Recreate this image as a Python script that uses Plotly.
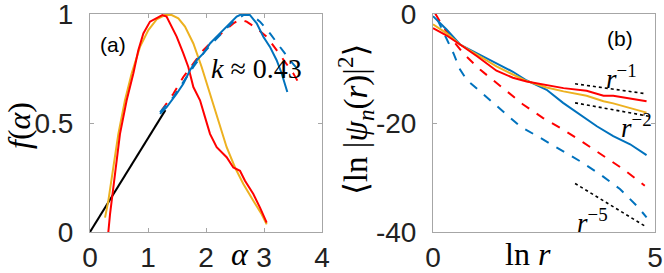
import plotly.graph_objects as go

W, H = 664, 273

# ---------------- Panel (a) data ----------------
a_red_x = [0.316, 0.345, 0.431, 0.517, 0.632, 0.747, 0.833, 0.92, 1.034, 1.149, 1.247, 1.32, 1.379, 1.494,
           1.609, 1.695, 1.782, 1.897, 1.983, 2.069, 2.184, 2.356, 2.471, 2.586, 2.672, 2.816, 2.931, 3.046]
a_red_y = [0.0, 0.081, 0.266, 0.45, 0.604, 0.727, 0.834, 0.911, 0.965, 0.98, 0.995, 0.988, 0.957, 0.896,
           0.819, 0.757, 0.665, 0.604, 0.527, 0.45, 0.389, 0.343, 0.296, 0.281, 0.235, 0.174, 0.112, 0.043]

a_orange_x = [0.259, 0.316, 0.402, 0.489, 0.603, 0.718, 0.862, 1.006, 1.149, 1.293, 1.408, 1.523, 1.638,
              1.782, 1.925, 2.069, 2.213, 2.356, 2.5, 2.644, 2.816, 2.96, 3.046]
a_orange_y = [0.066, 0.143, 0.296, 0.45, 0.604, 0.727, 0.849, 0.926, 0.975, 0.995, 0.995, 0.98, 0.942,
              0.865, 0.757, 0.634, 0.511, 0.389, 0.296, 0.22, 0.143, 0.081, 0.035]

a_blue_x = [1.207, 1.322, 1.494, 1.609, 1.724, 1.839, 1.954, 2.069, 2.184, 2.299, 2.414, 2.529, 2.644,
            2.759, 2.874, 2.989, 3.103, 3.218, 3.305, 3.362, 3.402]
a_blue_y = [0.542, 0.573, 0.634, 0.68, 0.742, 0.788, 0.819, 0.865, 0.896, 0.926, 0.957, 0.988, 1.003,
            0.995, 0.957, 0.896, 0.849, 0.788, 0.727, 0.68, 0.642]

a_red_dash_x = [1.236, 1.437, 1.609, 1.782, 1.954, 2.126, 2.299, 2.471, 2.586, 2.701, 2.874, 3.046,
                3.218, 3.391, 3.506, 3.621]
a_red_dash_y = [0.558, 0.634, 0.711, 0.773, 0.834, 0.88, 0.919, 0.957, 0.975, 0.965, 0.934, 0.896,
                0.834, 0.773, 0.727, 0.673]

a_blue_dash_x = [1.207, 1.437, 1.609, 1.782, 1.954, 2.126, 2.299, 2.471, 2.644, 2.787, 2.931, 3.103,
                 3.276, 3.448, 3.621]
a_blue_dash_y = [0.55, 0.619, 0.688, 0.757, 0.819, 0.872, 0.919, 0.965, 0.995, 0.995, 0.965, 0.911,
                 0.849, 0.788, 0.734]

a_line_x = [0.0, 1.3]
a_line_y = [0.0, 0.559]

a_xticks = [0, 1, 2, 3, 4]
a_yticks = [0, 0.5, 1]
a_yticklabels = ["0", "0.5", "1"]

# ---------------- Panel (b) data ----------------
b_red_x = [0.0, 0.3, 0.61, 1.0, 1.43, 1.8, 2.11, 2.56, 2.94, 3.46, 3.84, 4.06, 4.81]
b_red_y = [-2.6, -3.9, -5.6, -7.8, -10.4, -11.7, -12.4, -13.0, -13.6, -14.1, -15.0, -15.0, -16.0]

b_orange_x = [0.0, 0.3, 0.61, 1.0, 1.43, 1.8, 2.11, 2.56, 2.94, 3.46, 3.84, 4.06, 4.81]
b_orange_y = [-1.9, -3.5, -5.6, -7.5, -9.6, -11.1, -12.3, -13.5, -14.2, -15.0, -16.0, -16.4, -18.1]

b_blue_x = [0.0, 0.3, 0.61, 1.0, 1.43, 1.8, 2.11, 2.56, 2.93, 3.31, 3.69, 4.06, 4.44, 4.81]
b_blue_y = [-0.4, -2.8, -5.6, -7.2, -9.0, -10.6, -12.2, -13.9, -16.3, -18.4, -20.6, -22.4, -23.9, -25.9]

b_red_dash_x = [0.05, 0.2, 0.38, 0.68, 1.06, 1.43, 1.89, 2.03, 2.48, 2.93, 3.39, 3.84, 4.29, 4.77]
b_red_dash_y = [0.1, -2.0, -4.1, -7.2, -10.2, -12.7, -15.7, -16.6, -19.1, -21.2, -23.6, -26.1, -28.5, -31.5]

b_blue_dash_x = [0.1, 0.27, 0.46, 0.61, 0.76, 1.06, 1.43, 1.73, 1.96, 2.41, 2.86, 3.31, 3.76, 4.21, 4.59, 4.81]
b_blue_dash_y = [-1.0, -3.8, -7.2, -10.2, -12.1, -14.2, -16.9, -19.0, -20.6, -22.7, -24.8, -27.0, -29.4,
                 -32.1, -35.2, -37.3]

b_p1_x = [3.2, 4.77]
b_p1_y = [-12.8, -14.6]
b_p2_x = [3.2, 4.89]
b_p2_y = [-16.3, -18.8]
b_p5_x = [3.2, 4.77]
b_p5_y = [-31.1, -38.9]

b_xticks = [0, 5]
b_yticks = [0, -20, -40]
b_yticklabels = ["0", "-20", "-40"]

RED = "#FF0000"
ORANGE = "#EDB120"
BLUE = "#0072BD"
FRAME = "#A6A6A6"
SANS = "Liberation Sans, Arial, sans-serif"
SERIF = "Liberation Serif, DejaVu Serif, serif"
TICKSIZE = 28


def px(x):
    return x / W


def py(y):
    return 1 - y / H


fig = go.Figure()


def add(x, y, color, dash="solid", width=2.0, xa="x", ya="y"):
    fig.add_trace(go.Scatter(x=x, y=y, mode="lines", line=dict(color=color, width=width, dash=dash),
                             xaxis=xa, yaxis=ya, showlegend=False, hoverinfo="skip"))


# panel a
add(a_line_x, a_line_y, "black", width=2)
add(a_orange_x, a_orange_y, ORANGE)
add(a_red_x, a_red_y, RED)
add(a_red_dash_x, a_red_dash_y, RED, dash="dash")
add(a_blue_dash_x, a_blue_dash_y, BLUE, dash="dash")
add(a_blue_x, a_blue_y, BLUE)

# panel b
add(b_blue_dash_x, b_blue_dash_y, BLUE, dash="dash", xa="x2", ya="y2")
add(b_red_dash_x, b_red_dash_y, RED, dash="dash", xa="x2", ya="y2")
add(b_blue_x, b_blue_y, BLUE, xa="x2", ya="y2")
add(b_orange_x, b_orange_y, ORANGE, xa="x2", ya="y2")
add(b_red_x, b_red_y, RED, xa="x2", ya="y2")
for xs, ys in [(b_p1_x, b_p1_y), (b_p2_x, b_p2_y), (b_p5_x, b_p5_y)]:
    add(xs, ys, "black", dash="dot", width=1.6, xa="x2", ya="y2")

axis_common = dict(showline=True, linecolor=FRAME, linewidth=1, mirror="ticks", ticks="inside",
                   ticklen=4, tickcolor=FRAME, showgrid=False, zeroline=False,
                   ticklabeloverflow="allow", automargin=False,
                   tickfont=dict(family=SANS, size=TICKSIZE, color="#222"))

y0, y1 = py(232), py(14)
fig.update_layout(
    width=W, height=H, margin=dict(l=0, r=0, t=0, b=0, pad=0, autoexpand=False),
    paper_bgcolor="white", plot_bgcolor="white",
    xaxis=dict(domain=[px(90), px(322)], range=[0, 4], tickvals=a_xticks, anchor="y",
               ticklabelstandoff=0, **axis_common),
    yaxis=dict(domain=[y0, y1], range=[0, 1], tickvals=a_yticks, ticktext=a_yticklabels, anchor="x",
               ticklabelstandoff=10, **axis_common),
    xaxis2=dict(domain=[px(433), px(655)], range=[0, 5], tickvals=b_xticks, anchor="y2",
                ticklabelstandoff=0, **axis_common),
    yaxis2=dict(domain=[y0, y1], range=[-40, 0], tickvals=b_yticks, ticktext=b_yticklabels, anchor="x2",
                ticklabelstandoff=10, **axis_common),
)

ann = []


def text(x, y, s, size, family, angle=0, color="black"):
    ann.append(dict(x=px(x), y=py(y), xref="paper", yref="paper", text=s, showarrow=False,
                    xanchor="center", yanchor="middle", textangle=angle, borderpad=0,
                    font=dict(family=family, size=size, color=color)))


text(113, 45, "(a)", 21, SANS)
text(620, 39, "(b)", 21, SANS)
text(256, 68, "<i>k</i> ≈ 0.43", 28, SERIF)
text(240, 254, "<i>α</i>", 32, SERIF)
text(528, 254, "ln <i>r</i>", 32, SERIF)
text(19, 126, "<i>f</i>(<i>α</i>)", 32, SERIF, angle=-90)
text(355, 120, "⟨ln |<i>ψ</i><sub><i>n</i></sub>(<i>r</i>)|<sup>2</sup>⟩", 33, SERIF, angle=-90)
text(621, 77, "<i>r</i><sup>−1</sup>", 27, SERIF)
text(636, 126, "<i>r</i><sup>−2</sup>", 27, SERIF)
text(592, 221, "<i>r</i><sup>−5</sup>", 27, SERIF)
fig.update_layout(annotations=ann)

fig.write_html("out.html", config={"displayModeBar": False},
               post_script="document.body.style.margin='0px';")
